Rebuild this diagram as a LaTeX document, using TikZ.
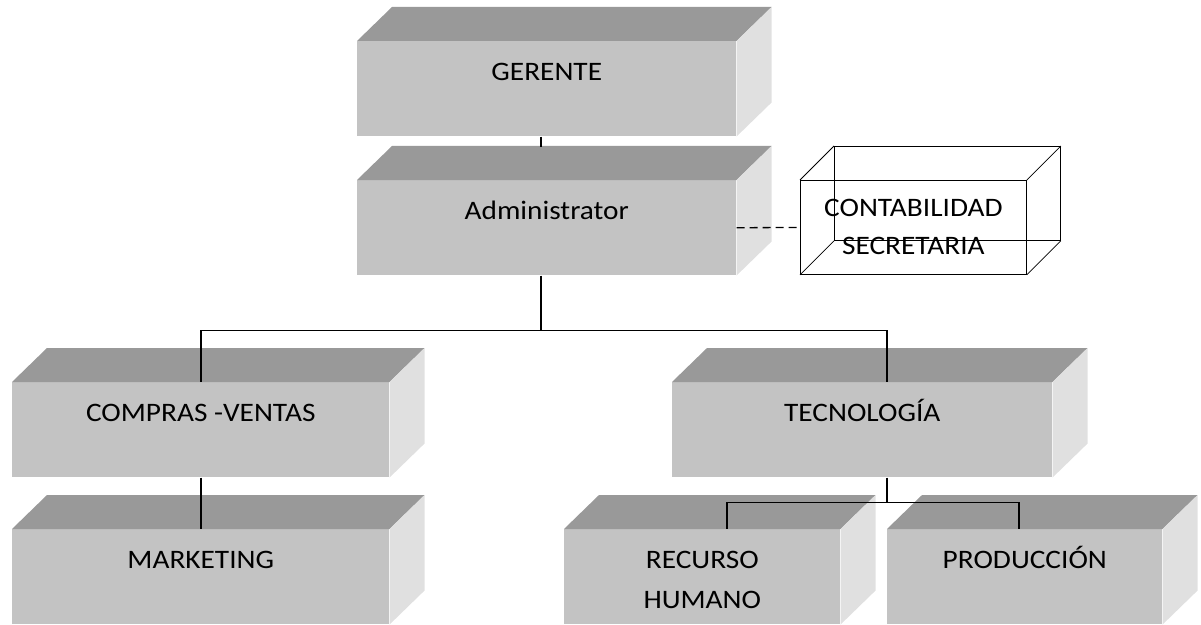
\documentclass[tikz,border=0pt]{standalone}
\usepackage{fontspec}
\setmainfont{Carlito}[FakeStretch=1.1]
\usetikzlibrary{calc}

\definecolor{frente}{HTML}{C3C3C3}
\definecolor{techo}{HTML}{999999}
\definecolor{lado}{HTML}{E0E0E0}

\tikzset{
  caja/.style={fill=frente, anchor=north west, inner sep=0pt, align=center,
    minimum height=71.25pt, text height=29.25pt, text depth=42pt,
    font=\fontsize{20}{30}\selectfont},
  dos lineas/.style={text height=59.25pt, text depth=12pt},
  hueca/.style={draw, line width=0.6pt, anchor=north west, inner sep=0pt, align=center,
    minimum width=169.5pt, minimum height=70.5pt, text height=55.5pt, text depth=15pt,
    font=\fontsize{20}{28.5}\selectfont},
  linea/.style={line width=1.2pt},
}

\begin{document}
\begin{tikzpicture}[x=0.75pt,y=-0.75pt]
  \useasboundingbox (0,0) rectangle (1201,624);

  % caras frontales
  \node[caja, minimum width=284.25pt] (ger) at (357,41) {GERENTE};
  \node[caja, minimum width=284.25pt] (adm) at (357,180) {Administrator};
  \node[caja, minimum width=282.75pt] (comp) at (12,382) {COMPRAS -VENTAS};
  \node[caja, minimum width=285pt] (tec) at (672,382) {TECNOLOGÍA};
  \node[caja, minimum width=282.75pt] (mark) at (12,529) {MARKETING};
  \node[caja, dos lineas, minimum width=207pt] (rec) at (564,529) {RECURSO\\HUMANO};
  \node[caja, minimum width=206.25pt] (prod) at (887,529) {PRODUCCIÓN};

  % techo y lado de cada caja
  \foreach \n in {ger,adm,comp,tec,mark,rec,prod} {
    \fill[techo] (\n.north west) -- ++(35,-34) -- ($(\n.north east)+(35,-34)$) -- (\n.north east) -- cycle;
    \fill[lado] (\n.north east) -- ++(35,-34) -- ($(\n.south east)+(35,-34)$) -- (\n.south east) -- cycle;
  }

  % caja transparente
  \node[hueca] (conta) at (800,180) {CONTABILIDAD\\SECRETARIA};
  \draw[line width=0.6pt] ($(conta.north west)+(34,-34)$) rectangle ($(conta.south east)+(34,-34)$);
  \foreach \a in {north west,north east,south west,south east}
    \draw[line width=0.6pt] (conta.\a) -- ++(34,-34);

  % conexiones
  \draw[linea] ($(ger.south)+(-6,0)$) -- ($(adm.north)+(-6,-33)$);
  \draw[linea] ($(adm.south)+(-6,0)$) -- ++(0,55) coordinate (rama);
  \draw[linea] (rama) -| (comp.north);
  \draw[linea] (rama) -| ($(tec.north)+(25,0)$);
  \draw[linea] (comp.south) -- (mark.north);
  \draw[linea] ($(tec.south)+(25,0)$) -- ++(0,25) coordinate (rama2);
  \draw[linea] (rama2) -| ($(rec.north)+(25,0)$);
  \draw[linea] (rama2) -| ($(prod.north)+(-5.5,0)$);
  \draw[line width=1pt, dash pattern=on 6pt off 3.75pt] (adm.east) -- (conta.west);
\end{tikzpicture}
\end{document}
